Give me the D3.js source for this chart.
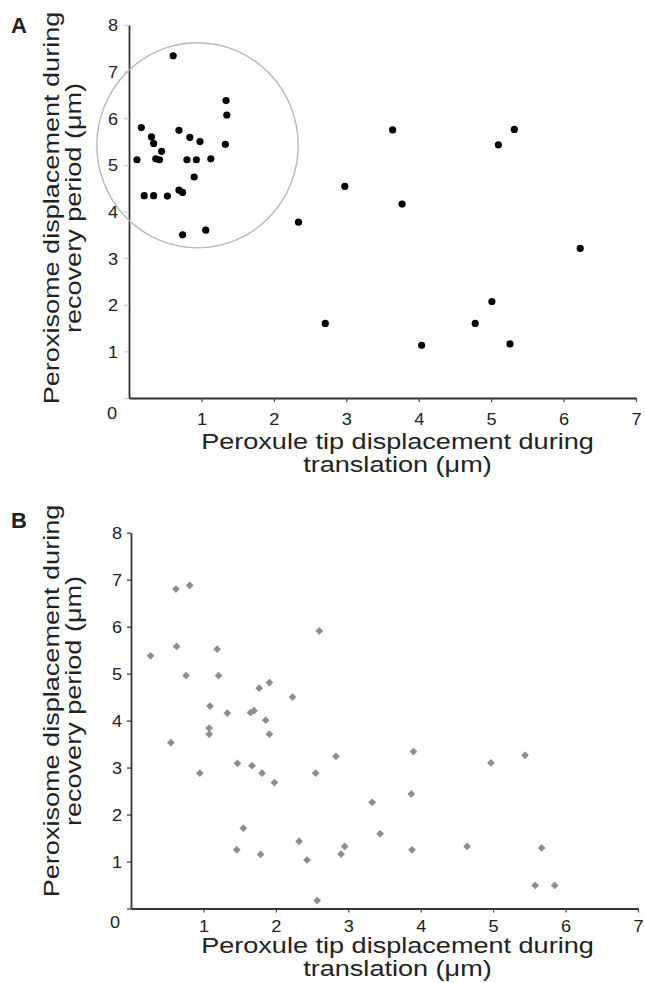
<!DOCTYPE html>
<html>
<head>
<meta charset="utf-8">
<script src="https://cdn.jsdelivr.net/npm/d3@7"></script>
<style>
  body { margin: 0; background: #fff; }
  text { font-family: "Liberation Sans", Arial, sans-serif; fill: #222; }
</style>
</head>
<body>
<script>
/* Data: panel A (black dots) */
const aX = [0.61, 1.34, 1.35, 0.17, 0.69, 0.31, 0.34, 0.84, 0.98, 1.33, 0.45, 0.11, 0.37, 0.42, 0.80, 0.93, 1.13,
  0.90, 0.21, 0.34, 0.53, 0.69, 0.74, 2.34, 0.74, 1.06, 2.71, 3.64, 5.32, 5.10, 2.98, 3.77, 6.23, 5.01, 4.78, 4.04, 5.26];
const aY = [7.34, 6.38, 6.07, 5.80, 5.74, 5.60, 5.46, 5.59, 5.50, 5.44, 5.29, 5.11, 5.13, 5.11, 5.11, 5.11, 5.13,
  4.74, 4.34, 4.34, 4.33, 4.46, 4.41, 3.77, 3.50, 3.60, 1.60, 5.75, 5.76, 5.43, 4.54, 4.16, 3.21, 2.07, 1.60, 1.13, 1.16];

/* Data: panel B (grey diamonds) */
const bX = [0.27, 0.62, 0.81, 0.63, 1.19, 0.76, 1.21, 2.60, 1.09, 1.33, 1.65, 1.70, 1.77, 1.91, 2.23, 1.86, 1.08, 1.08,
  0.55, 1.91, 0.95, 1.47, 1.67, 1.81, 1.98, 2.55, 1.55, 1.46, 1.79, 2.32, 2.43, 2.57, 2.83, 3.90, 4.97, 5.44,
  3.33, 3.87, 3.44, 2.95, 2.90, 3.88, 4.64, 5.67, 5.58, 5.85];
const bY = [5.38, 6.80, 6.88, 5.58, 5.52, 4.96, 4.96, 5.91, 4.31, 4.16, 4.17, 4.21, 4.69, 4.81, 4.50, 4.01, 3.84, 3.71,
  3.53, 3.71, 2.88, 3.09, 3.04, 2.88, 2.68, 2.88, 1.71, 1.25, 1.15, 1.43, 1.03, 0.17, 3.24, 3.34, 3.10, 3.26,
  2.26, 2.44, 1.59, 1.32, 1.16, 1.25, 1.32, 1.29, 0.49, 0.49];

/* Tick values and labels */
const xTicks = [1, 2, 3, 4, 5, 6, 7];
const yTicks = [1, 2, 3, 4, 5, 6, 7, 8];
const xTitle = ["Peroxule tip displacement during", "translation (\u03bcm)"];
const yTitle = ["Peroxisome displacement during", "recovery period (\u03bcm)"];

/* Highlight ellipse in panel A (data units) */
const ring = { cx: 0.946, cy: 5.42, rx: 1.39, ry: 2.2 };

const W = 645, H = 983;
const STRETCH = 1.23;   // the figure's type is wider than Arial

const svg = d3.select("body").append("svg")
  .attr("width", W)
  .attr("height", H);

// stretch text along its baseline to match the scanned figure
function widen(sel, k) {
  sel.each(function () {
    const len = this.getComputedTextLength();
    d3.select(this).attr("textLength", len * k).attr("lengthAdjust", "spacingAndGlyphs");
  });
}

function panel(p) {
  const x = d3.scaleLinear().domain([0, 7]).range([p.left, p.right]);
  const y = d3.scaleLinear().domain([0, 8]).range([p.bottom, p.top]);
  const g = svg.append("g");

  /* Axes */
  const xAxis = d3.axisBottom(x).tickValues(xTicks).tickSize(4).tickSizeOuter(0).tickFormat(d3.format("d"));
  const gx = g.append("g")
    .attr("transform", "translate(0," + p.bottom + ")")
    .call(xAxis);
  gx.select(".domain").attr("stroke", "#333").attr("stroke-width", 1.8);
  gx.selectAll(".tick line").attr("stroke", "#444").attr("stroke-width", 1.2);
  gx.selectAll(".tick text")
    .attr("y", p.xLabY - p.bottom).attr("dy", null)
    .style("font-size", "16.5px").attr("fill", "#222")
    .call(widen, 1.1);

  const yAxis = d3.axisLeft(y).tickValues([0].concat(yTicks)).tickSize(p.yTickLen).tickSizeOuter(0)
    .tickFormat(d => d === 0 ? "" : d);
  const gy = g.append("g")
    .attr("transform", "translate(" + p.left + ",0)")
    .call(yAxis);
  gy.select(".domain").attr("stroke", "#333").attr("stroke-width", 1.8);
  gy.selectAll(".tick line").attr("stroke", p.yTickColor).attr("stroke-width", 1.2);
  gy.selectAll(".tick text")
    .attr("x", -p.yLabGap).attr("dy", "0.36em")
    .style("font-size", "16.5px").attr("fill", "#222")
    .call(widen, 1.1);

  g.append("text")
    .attr("x", p.zero[0]).attr("y", p.zero[1])
    .attr("text-anchor", "middle")
    .style("font-size", "16.5px")
    .text("0")
    .call(widen, 1.1);

  /* Axis titles */
  g.selectAll(".xt").data(xTitle).join("text")
    .attr("class", "xt")
    .attr("x", p.xTitleX)
    .attr("y", (d, i) => p.xTitleY + i * 23)
    .attr("text-anchor", "middle")
    .style("font-size", "22px")
    .text(d => d)
    .call(widen, STRETCH);

  g.selectAll(".yt").data(yTitle).join("text")
    .attr("class", "yt")
    .attr("transform", (d, i) => "translate(" + (59 + i * 22) + "," + p.yTitleY + ") rotate(-90)")
    .attr("text-anchor", "middle")
    .style("font-size", "22px")
    .text(d => d)
    .call(widen, STRETCH);

  /* Panel letter */
  g.append("text")
    .attr("x", 11).attr("y", p.letterY)
    .style("font-size", "22px").style("font-weight", "bold")
    .attr("fill", "#111")
    .text(p.letter);

  return { g, x, y };
}

/* Panel A */
const A = panel({
  left: 129, right: 636, top: 25, bottom: 398,
  xLabY: 425, zero: [112, 419], yLabGap: 11, yTickLen: 5, yTickColor: "#ccc",
  xTitleX: 397.5, xTitleY: 449, yTitleY: 208, letter: "A", letterY: 33
});

A.g.append("ellipse")
  .attr("cx", A.x(ring.cx))
  .attr("cy", A.y(ring.cy))
  .attr("rx", A.x(ring.cx + ring.rx) - A.x(ring.cx))
  .attr("ry", A.y(ring.cy) - A.y(ring.cy + ring.ry))
  .attr("fill", "none")
  .attr("stroke", "#b8b8b8")
  .attr("stroke-width", 1.4);

A.g.selectAll(".dot")
  .data(d3.range(aX.length))
  .join("circle")
  .attr("class", "dot")
  .attr("cx", i => A.x(aX[i]))
  .attr("cy", i => A.y(aY[i]))
  .attr("r", 3.6)
  .attr("fill", "#000");

/* Panel B */
const B = panel({
  left: 131, right: 638, top: 532.7, bottom: 908.5,
  xLabY: 931.5, zero: [115, 928], yLabGap: 9, yTickLen: 4, yTickColor: "#333",
  xTitleX: 397.5, xTitleY: 953, yTitleY: 701, letter: "B", letterY: 528
});

const diamond = d3.symbol().type(d3.symbolSquare).size(30);
B.g.selectAll(".dia")
  .data(d3.range(bX.length))
  .join("path")
  .attr("class", "dia")
  .attr("d", diamond)
  .attr("transform", i => "translate(" + B.x(bX[i]) + "," + B.y(bY[i]) + ") rotate(45)")
  .attr("fill", "#8e8e8e");
</script>
</body>
</html>
